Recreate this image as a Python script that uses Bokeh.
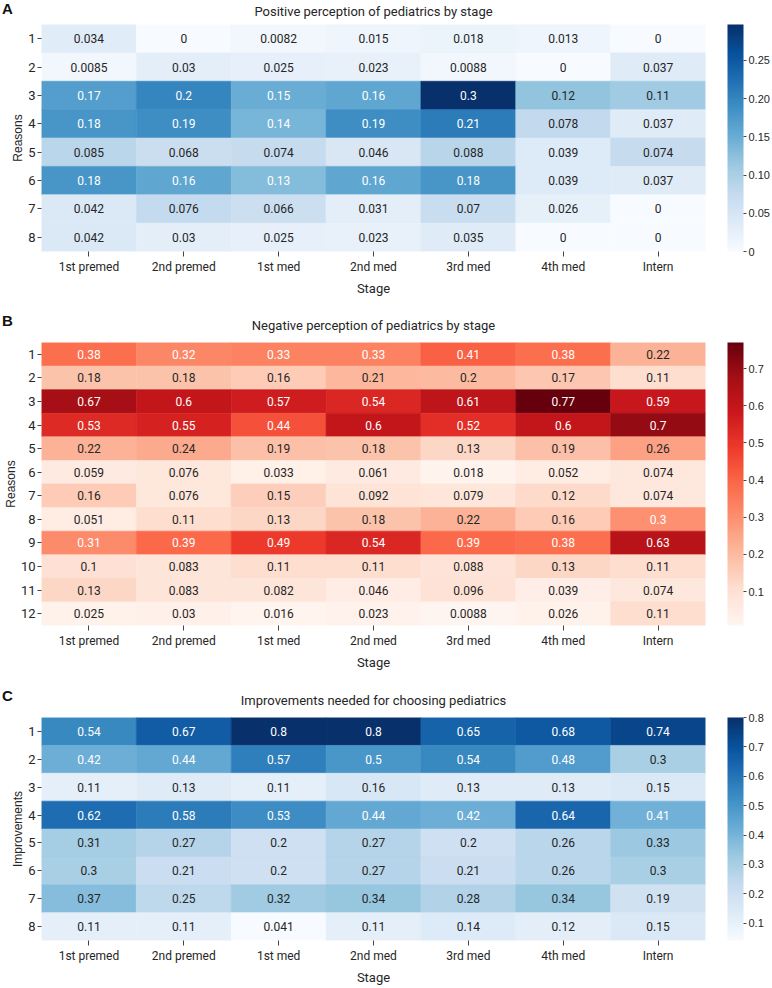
from bokeh.plotting import figure
from bokeh.models import ColumnDataSource, LinearColorMapper, ColorBar, FixedTicker, Div
from bokeh.transform import transform
from bokeh.layouts import column
from bokeh.core.properties import value
from bokeh.embed import file_html
from bokeh.resources import INLINE
from bokeh.palettes import Blues9, Reds9

# ---------------- data ----------------
stages = ["1st premed", "2nd premed", "1st med", "2nd med", "3rd med", "4th med", "Intern"]

pos_rows = ["1", "2", "3", "4", "5", "6", "7", "8"]
pos_values = [
    [0.034, 0, 0.0082, 0.015, 0.018, 0.013, 0],
    [0.0085, 0.03, 0.025, 0.023, 0.0088, 0, 0.037],
    [0.17, 0.2, 0.15, 0.16, 0.297, 0.12, 0.11],
    [0.18, 0.19, 0.14, 0.19, 0.21, 0.078, 0.037],
    [0.085, 0.068, 0.074, 0.046, 0.088, 0.039, 0.074],
    [0.18, 0.16, 0.13, 0.16, 0.18, 0.039, 0.037],
    [0.042, 0.076, 0.066, 0.031, 0.07, 0.026, 0],
    [0.042, 0.03, 0.025, 0.023, 0.035, 0, 0],
]
pos_cbar_ticks = [0, 0.05, 0.10, 0.15, 0.20, 0.25]
pos_cbar_labels = ["0", "0.05", "0.10", "0.15", "0.20", "0.25"]

neg_rows = ["1", "2", "3", "4", "5", "6", "7", "8", "9", "10", "11", "12"]
neg_values = [
    [0.38, 0.32, 0.33, 0.33, 0.41, 0.38, 0.22],
    [0.18, 0.18, 0.16, 0.21, 0.2, 0.17, 0.11],
    [0.67, 0.6, 0.57, 0.54, 0.61, 0.77, 0.59],
    [0.53, 0.55, 0.44, 0.6, 0.52, 0.6, 0.7],
    [0.22, 0.24, 0.19, 0.18, 0.13, 0.19, 0.26],
    [0.059, 0.076, 0.033, 0.061, 0.018, 0.052, 0.074],
    [0.16, 0.076, 0.15, 0.092, 0.079, 0.12, 0.074],
    [0.051, 0.11, 0.13, 0.18, 0.22, 0.16, 0.3],
    [0.31, 0.39, 0.49, 0.54, 0.39, 0.38, 0.63],
    [0.1, 0.083, 0.11, 0.11, 0.088, 0.13, 0.11],
    [0.13, 0.083, 0.082, 0.046, 0.096, 0.039, 0.074],
    [0.025, 0.03, 0.016, 0.023, 0.0088, 0.026, 0.11],
]
neg_cbar_ticks = [0.1, 0.2, 0.3, 0.4, 0.5, 0.6, 0.7]
neg_cbar_labels = ["0.1", "0.2", "0.3", "0.4", "0.5", "0.6", "0.7"]

imp_rows = ["1", "2", "3", "4", "5", "6", "7", "8"]
imp_values = [
    [0.54, 0.67, 0.8, 0.8, 0.65, 0.68, 0.74],
    [0.42, 0.44, 0.57, 0.5, 0.54, 0.48, 0.3],
    [0.11, 0.13, 0.11, 0.16, 0.13, 0.13, 0.15],
    [0.62, 0.58, 0.53, 0.44, 0.42, 0.64, 0.41],
    [0.31, 0.27, 0.2, 0.27, 0.2, 0.26, 0.33],
    [0.3, 0.21, 0.2, 0.27, 0.21, 0.26, 0.3],
    [0.37, 0.25, 0.32, 0.34, 0.28, 0.34, 0.19],
    [0.11, 0.11, 0.041, 0.11, 0.14, 0.12, 0.15],
]
imp_cbar_ticks = [0.1, 0.2, 0.3, 0.4, 0.5, 0.6, 0.7, 0.8]
imp_cbar_labels = ["0.1", "0.2", "0.3", "0.4", "0.5", "0.6", "0.7", "0.8"]

# ---------------- styling helpers ----------------
FONT_C = "Roboto"
FONT_A = "Liberation Sans"
W = 772


def interp_palette(anchors, n=256):
    rgb = [tuple(int(h[i:i + 2], 16) for i in (1, 3, 5)) for h in anchors]
    out = []
    for k in range(n):
        t = k / (n - 1) * (len(rgb) - 1)
        i = min(int(t), len(rgb) - 2)
        f = t - i
        c = [round(rgb[i][j] + (rgb[i + 1][j] - rgb[i][j]) * f) for j in range(3)]
        out.append("#%02x%02x%02x" % tuple(c))
    return out


BLUES = interp_palette(list(reversed(Blues9)))
REDS = interp_palette(list(reversed(Reds9)))


def panel(title, rows, values, palette, light_limit, ylabel, cticks, clabels,
          height, top, bottom, title_gap, lift):
    flat = [v for r in values for v in r]
    lo, hi = min(flat), max(flat)
    mapper = LinearColorMapper(palette=palette, low=lo, high=hi)
    xs, ys, vs, labs, tcs = [], [], [], [], []
    for r, row in zip(rows, values):
        for s, v in zip(stages, row):
            xs.append(s)
            ys.append(r)
            vs.append(v)
            labs.append(format(v, ".2g"))
            t = (v - lo) / (hi - lo)
            tcs.append("#ffffff" if t > light_limit else "#262626")
    src = ColumnDataSource(dict(x=xs, y=ys, v=vs, label=labs, tc=tcs))

    p = figure(x_range=stages, y_range=list(reversed(rows)), width=W, height=height + lift,
               output_backend="svg", toolbar_location=None,
               min_border_left=36, min_border_right=63,
               min_border_top=top + lift, min_border_bottom=bottom,
               border_fill_color=None, margin=(-lift, 0, 0, 0))
    p.rect(x="x", y="y", width=1, height=1, source=src,
           fill_color=transform("v", mapper), line_color=transform("v", mapper),
           line_width=0.6)
    p.text(x="x", y="y", text="label", text_color="tc", source=src,
           text_align="center", text_baseline="middle",
           text_font=value(FONT_C), text_font_size="12px")

    p.title.text = title
    p.title.align = "center"
    p.title.text_font = FONT_C
    p.title.text_font_size = "13px"
    p.title.text_font_style = "normal"
    p.title.text_color = "#262626"
    p.title.standoff = title_gap

    p.grid.visible = False
    p.outline_line_color = None
    for ax in (p.xaxis[0], p.yaxis[0]):
        ax.axis_line_color = None
        ax.major_tick_in = 0
        ax.major_tick_out = 5
        ax.minor_tick_line_color = None
        ax.major_tick_line_color = "#444444"
        ax.major_label_text_color = "#262626"
        ax.axis_label_text_font_style = "normal"
        ax.axis_label_text_color = "#262626"
    p.xaxis.major_label_text_font = FONT_C
    p.xaxis.major_label_text_font_size = "12px"
    p.xaxis.axis_label = "Stage"
    p.xaxis.axis_label_text_font = FONT_C
    p.xaxis.axis_label_text_font_size = "13px"
    p.xaxis.axis_label_standoff = 4
    p.xaxis.major_label_standoff = 3
    p.yaxis.major_label_text_font = FONT_C
    p.yaxis.major_label_text_font_size = "13px"
    p.yaxis.major_label_standoff = 2
    p.yaxis.major_tick_out = 4
    p.yaxis.axis_label = ylabel
    p.yaxis.axis_label_text_font = FONT_A
    p.yaxis.axis_label_text_font_size = "12px"
    p.yaxis.axis_label_text_line_height = 1.0
    p.yaxis.axis_label_standoff = 0

    cb = ColorBar(color_mapper=mapper, width=16, padding=0, margin=0,
                  location=(22, 0),
                  ticker=FixedTicker(ticks=cticks),
                  major_label_overrides={t: l for t, l in zip(cticks, clabels)},
                  major_label_text_font=FONT_A, major_label_text_font_size="11px",
                  major_label_text_color="#262626",
                  major_tick_in=0, major_tick_out=3, major_tick_line_color="#444444",
                  minor_tick_line_color=None, bar_line_color=None,
                  border_line_color=None, background_fill_color=None,
                  label_standoff=2)
    p.add_layout(cb, "right")
    return p


def letter(txt, top):
    return Div(text=txt, width=20, height=20, margin=(top, 0, -(top + 20), 2),
               styles={"font-family": FONT_A, "font-weight": "bold",
                       "font-size": "15px", "color": "#111111", "line-height": "16px"})


pA = panel("Positive perception of pediatrics by stage", pos_rows, pos_values,
           BLUES, 0.4355, "Reasons", pos_cbar_ticks, pos_cbar_labels,
           305, 24, 54, 12, 6)
pB = panel("Negative perception of pediatrics by stage", neg_rows, neg_values,
           REDS, 0.36, "Reasons", neg_cbar_ticks, neg_cbar_labels,
           375, 36, 55, 20, 0)
pC = panel("Improvements needed for choosing pediatrics", imp_rows, imp_values,
           BLUES, 0.4355, "Improvements", imp_cbar_ticks, imp_cbar_labels,
           307, 36, 44, 20, 0)

layout = column(letter("A", 1), pA, letter("B", 8), pB, letter("C", 8), pC, spacing=0)
open("out.html", "w").write(file_html(layout, INLINE))
